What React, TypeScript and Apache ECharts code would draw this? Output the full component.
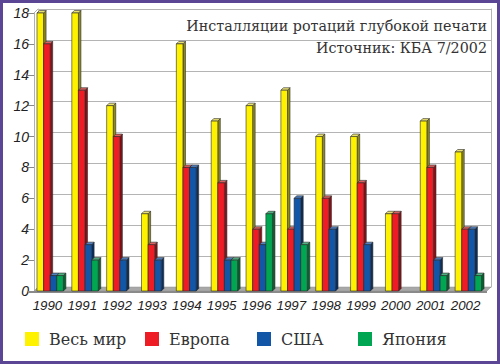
import React, { useEffect, useRef } from "react";
import * as echarts from "echarts";

const years = ["1990", "1991", "1992", "1993", "1994", "1995", "1996", "1997", "1998", "1999", "2000", "2001", "2002"];
const seriesNames = ["Весь мир", "Европа", "США", "Япония"];
const world = [18, 18, 12, 5, 16, 11, 12, 13, 10, 10, 5, 11, 9];
const europe = [16, 13, 10, 3, 8, 7, 4, 4, 6, 7, 5, 8, 4];
const usa = [1, 3, 2, 2, 8, 2, 3, 6, 4, 3, 0, 2, 4];
const japan = [1, 2, 0, 0, 0, 2, 5, 3, 0, 0, 0, 1, 1];
const yTicks = [0, 2, 4, 6, 8, 10, 12, 14, 16, 18];
const titleLines = ["Инсталляции ротаций глубокой печати", "Источник: КБА 7/2002"];

const colors = ["#FFF200", "#EE1C25", "#1256A8", "#00A651"];
const sideColors = ["#8F8A1E", "#8A1015", "#0A2F5E", "#0A6030"];
const topColors = ["#E8E070", "#D86060", "#5080C0", "#50B080"];

export default function App() {
  const ref = useRef<HTMLDivElement>(null);
  useEffect(() => {
    document.body.style.margin = "0";
    if (!ref.current) return;
    const chart = echarts.init(ref.current, null, { renderer: "svg" });
    const dataSets = [world, europe, usa, japan];
    const W = 6.6;
    const DX = 2.5;
    const DY = 2.5;
    const series: any[] = dataSets.map((arr, s) => ({
      type: "custom",
      name: seriesNames[s],
      xAxisIndex: 0,
      yAxisIndex: 0,
      itemStyle: { color: colors[s] },
      data: arr.map((v, i) => [i, v]),
      z: 5,
      renderItem: (params: any, api: any) => {
        const cat = api.value(0);
        const v = api.value(1);
        if (!v) return null;
        const base = api.coord([cat, 0]);
        const top = api.coord([cat, v]);
        const x0 = base[0] - 2 * W - DX / 2 + s * W;
        const yt = top[1];
        const yb = base[1];
        const stroke = "#2a2a2a";
        return {
          type: "group",
          children: [
            {
              type: "polygon",
              shape: { points: [[x0 + W, yt], [x0 + W + DX, yt - DY], [x0 + W + DX, yb - DY], [x0 + W, yb]] },
              style: { fill: sideColors[s], stroke, lineWidth: 0.6 },
            },
            {
              type: "polygon",
              shape: { points: [[x0, yt], [x0 + DX, yt - DY], [x0 + W + DX, yt - DY], [x0 + W, yt]] },
              style: { fill: topColors[s], stroke, lineWidth: 0.6 },
            },
            {
              type: "rect",
              shape: { x: x0, y: yt, width: W, height: yb - yt },
              style: { fill: colors[s], stroke, lineWidth: 0.6 },
            },
          ],
        };
      },
    }));

    const legendLefts = [25, 145, 257, 358];

    chart.setOption({
      animation: false,
      backgroundColor: "#ffffff",
      grid: [
        { left: 34, right: 13, top: 13, bottom: 73 },
        { left: 38, right: 9, top: 9, bottom: 77 },
      ],
      xAxis: [
        {
          type: "category",
          gridIndex: 0,
          data: years,
          axisLine: { show: false },
          axisTick: { show: false },
          axisLabel: {
            interval: 0,
            hideOverlap: false,
            margin: 8,
            fontFamily: "Liberation Sans",
            fontStyle: "italic",
            fontSize: 13.3,
            color: "#222",
            padding: [0, 8, 0, 0],
          },
        },
        {
          type: "category",
          gridIndex: 1,
          data: years,
          show: false,
        },
      ],
      yAxis: [
        {
          type: "value",
          gridIndex: 0,
          min: yTicks[0],
          max: yTicks[yTicks.length - 1],
          interval: 2,
          splitLine: { show: false },
          axisLine: { show: true, lineStyle: { color: "#b0b0b0", width: 1 } },
          axisTick: { show: true, length: 6, lineStyle: { color: "#888" } },
          axisLabel: {
            margin: 5,
            fontFamily: "Liberation Sans",
            fontStyle: "italic",
            fontSize: 14,
            color: "#222",
          },
        },
        {
          type: "value",
          gridIndex: 1,
          min: yTicks[0],
          max: yTicks[yTicks.length - 1],
          interval: 2,
          splitLine: { show: true, lineStyle: { color: "#b4b4b4", width: 1 } },
          axisLine: { show: true, lineStyle: { color: "#c0c0c0" } },
          axisTick: { show: false },
          axisLabel: { show: false },
        },
        {
          type: "value",
          gridIndex: 1,
          position: "right",
          min: yTicks[0],
          max: yTicks[yTicks.length - 1],
          interval: 2,
          splitLine: { show: false },
          axisLine: { show: true, lineStyle: { color: "#b4b4b4" } },
          axisTick: { show: false },
          axisLabel: { show: false },
        },
      ],
      legend: seriesNames.map((n, i) => ({
        data: [{ name: n, icon: "rect" }],
        left: legendLefts[i],
        top: 331,
        padding: 0,
        itemWidth: 14,
        itemHeight: 14,
        selectedMode: false,
        textStyle: {
          fontFamily: "DejaVu Serif",
          fontSize: 16,
          color: "#333",
          padding: [0, 0, 0, 5],
        },
      })),
      graphic: [
        {
          type: "polygon",
          z: 1,
          shape: { points: [[34, 291], [487, 291], [491, 287], [38, 287]] },
          style: { fill: "#a8a8a8", stroke: "#909090", lineWidth: 0.5 },
        },
        {
          type: "rect",
          z: 1,
          shape: { x: 28, y: 291, width: 459, height: 2 },
          style: { fill: "#8a8a8a" },
        },
        {
          type: "line",
          z: 1,
          shape: { x1: 34, y1: 13, x2: 38, y2: 9 },
          style: { stroke: "#b0b0b0", lineWidth: 1 },
        },
        {
          type: "text",
          right: 13,
          top: 19,
          z: 10,
          style: {
            text: titleLines[0],
            fontFamily: "DejaVu Serif",
            fontSize: 14.3,
            fill: "#333",
            textAlign: "right",
          },
        },
        {
          type: "text",
          right: 13,
          top: 41,
          z: 10,
          style: {
            text: titleLines[1],
            fontFamily: "DejaVu Serif",
            fontSize: 14.3,
            fill: "#333",
            textAlign: "right",
          },
        },
        {
          type: "rect",
          z: 20,
          shape: { x: 1.5, y: 1.5, width: 497, height: 361 },
          style: { fill: "none", stroke: "#5a4694", lineWidth: 3 },
        },
      ],
      series,
    });
    return () => chart.dispose();
  }, []);
  return <div ref={ref} style={{ width: 500, height: 364 }} />;
}
